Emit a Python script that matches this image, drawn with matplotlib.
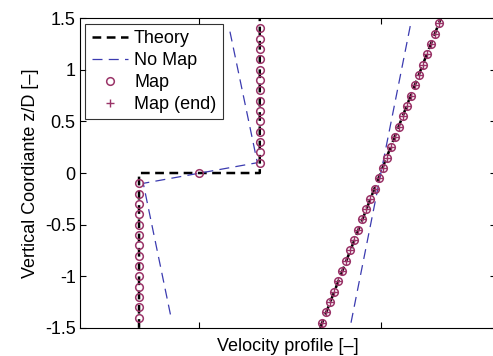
import numpy as np
import matplotlib
matplotlib.use("Agg")
import matplotlib.pyplot as plt

plt.rcParams['font.family'] = ['Liberation Sans', 'DejaVu Sans']
plt.rcParams['font.size'] = 13

# Theory profile (with NaN break between the two pieces)
theory_x = [-1/3, -1/3, 1/3, 1/3, np.nan, 2/3, 4/3]
theory_z = [-1.5, 0.0, 0.0, 1.5, np.nan, -1.5, 1.5]

# No Map profile
nomap_x = [-0.16, -0.31, 0.32, 0.165, np.nan, 0.837, 1.167]
nomap_z = [-1.37, -0.10, 0.10, 1.40, np.nan, -1.45, 1.45]

# Map points: step profile
map_step_z = [-1.4, -1.3, -1.2, -1.1, -1.0, -0.9, -0.8, -0.7, -0.6, -0.5, -0.4, -0.3, -0.2, -0.1,
              0.0,
              0.1, 0.2, 0.3, 0.4, 0.5, 0.6, 0.7, 0.8, 0.9, 1.0, 1.1, 1.2, 1.3, 1.4]
map_step_x = [-1/3] * 14 + [0.0] + [1/3] * 14

# Map points: linear profile (also Map (end))
map_lin_z = [-1.45, -1.35, -1.25, -1.15, -1.05, -0.95, -0.85, -0.75, -0.65, -0.55,
             -0.45, -0.35, -0.25, -0.15, -0.05, 0.05, 0.15, 0.25, 0.35, 0.45,
             0.55, 0.65, 0.75, 0.85, 0.95, 1.05, 1.15, 1.25, 1.35, 1.45]
map_lin_x = [0.678, 0.700, 0.722, 0.744, 0.767, 0.789, 0.811, 0.833, 0.856, 0.878,
             0.900, 0.922, 0.944, 0.967, 0.989, 1.011, 1.033, 1.056, 1.078, 1.100,
             1.122, 1.144, 1.167, 1.189, 1.211, 1.233, 1.256, 1.278, 1.300, 1.322]

map_color = '#9a3468'
nomap_color = '#3b3bb0'

fig = plt.figure(figsize=(4.93, 3.56), dpi=100)
ax = fig.add_axes([0.162, 0.079, 0.845, 0.870])

ax.plot(theory_x, theory_z, color='black', linestyle=(0, (3.5, 2.2)), linewidth=1.8, label='Theory')
ax.plot(nomap_x, nomap_z, color=nomap_color, linestyle=(0, (8, 5)), linewidth=0.9, label='No Map')
ax.plot(map_step_x + [np.nan] + map_lin_x, map_step_z + [np.nan] + map_lin_z,
        linestyle='none', marker='o', markersize=5.5, markerfacecolor='none',
        markeredgecolor=map_color, markeredgewidth=1.1, label='Map')
ax.plot(map_lin_x, map_lin_z, linestyle='none', marker='+', markersize=5.5,
        color=map_color, markeredgewidth=1.0, label='Map (end)')

ax.set_xlim(-0.66, 1.64)
ax.set_ylim(-1.5, 1.5)
ax.set_xticks([0, 1])
ax.set_xticklabels([])
ax.set_yticks([-1.5, -1, -0.5, 0, 0.5, 1, 1.5])
ax.set_yticklabels(['-1.5', '-1', '-0.5', '0', '0.5', '1', '1.5'])
ax.tick_params(direction='in', top=True, right=True, length=4, labelsize=13, pad=3)
for s in ax.spines.values():
    s.set_linewidth(0.8)

ax.set_xlabel('Velocity profile [–]', fontsize=13, labelpad=4)
ax.set_ylabel('Vertical Coordiante z/D [–]', fontsize=13, labelpad=4)

leg = ax.legend(loc='upper left', fontsize=13, frameon=True, fancybox=False,
                edgecolor='black', borderaxespad=0.3, handlelength=2.0,
                labelspacing=0.28, borderpad=0.35, handletextpad=0.35)
leg.get_frame().set_linewidth(0.8)

fig.savefig('out.png', dpi=100)
